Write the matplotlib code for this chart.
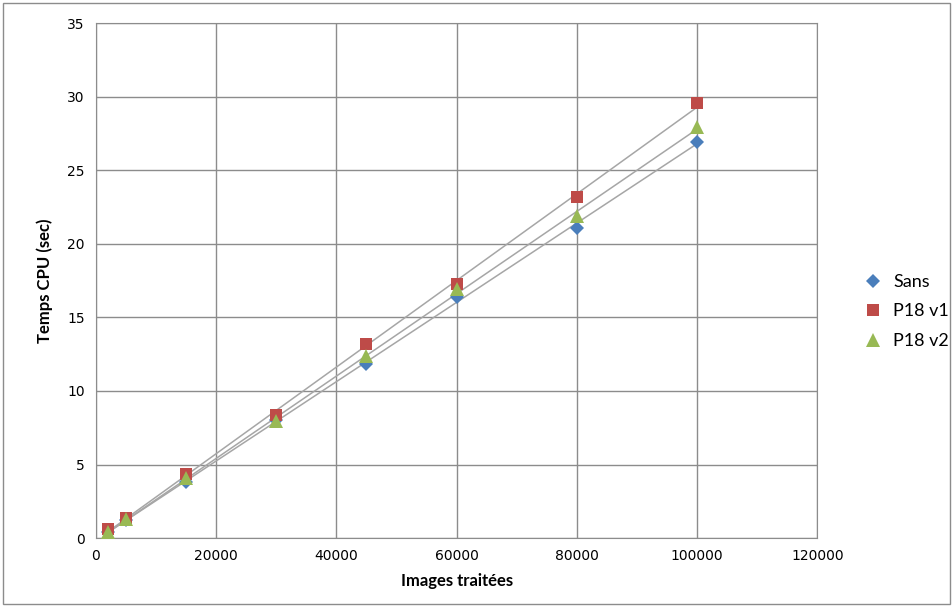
import numpy as np
import matplotlib.pyplot as plt
from matplotlib.patches import Rectangle

# Data
images = [2000, 5000, 15000, 30000, 45000, 60000, 80000, 100000]
sans = [0.4, 1.25, 3.8, 8.0, 11.8, 16.4, 21.1, 26.9]
p18_v1 = [0.6, 1.4, 4.35, 8.35, 13.2, 17.3, 23.2, 29.6]
p18_v2 = [0.4, 1.3, 4.1, 7.95, 12.35, 16.9, 21.9, 27.95]

series = [
    ('Sans', sans, '#4a7ebb', 'D', 7),
    ('P18 v1', p18_v1, '#be4b48', 's', 9),
    ('P18 v2', p18_v2, '#98b954', '^', 10),
]

fig = plt.figure(figsize=(9.53, 6.06), dpi=100)
ax = fig.add_axes([0.1007, 0.112, 0.757, 0.85])

x = np.array(images)
# linear trend lines (as in the spreadsheet chart)
for name, vals, color, marker, size in series:
    a, b = np.polyfit(x, vals, 1)
    xs = np.array([x.min(), x.max()])
    ax.plot(xs, a * xs + b, color='#a6a6a6', lw=1.1, zorder=2)

for name, vals, color, marker, size in series:
    ax.plot(images, vals, linestyle='none', marker=marker, markersize=size,
            color=color, markeredgewidth=0, label=name, zorder=3)

ax.set_xlim(0, 120000)
ax.set_ylim(0, 35)
ax.set_xticks(range(0, 120001, 20000))
ax.set_yticks(range(0, 36, 5))
ax.grid(True, color='#8c8c8c', lw=1)
ax.set_axisbelow(True)
for s in ax.spines.values():
    s.set_color('#8c8c8c')
ax.tick_params(length=0, labelsize=10, pad=8, colors='black')

ax.set_xlabel('Images traitées', fontsize=12, fontweight='bold', family='Lato', labelpad=7)
ax.set_ylabel('Temps CPU (sec)', fontsize=12, fontweight='bold', family='Lato', labelpad=10)

ax.legend(loc='center left', bbox_to_anchor=(1.04, 0.44), frameon=False,
          prop={'family': 'Lato', 'size': 13}, handletextpad=0.3,
          labelspacing=0.75, borderaxespad=0.3, handlelength=1.6)

fig.patches.append(Rectangle((0.003, 0.003), 0.994, 0.992, transform=fig.transFigure,
                             fill=False, edgecolor='#8c8c8c', lw=1))

fig.savefig('out.png', dpi=100)
